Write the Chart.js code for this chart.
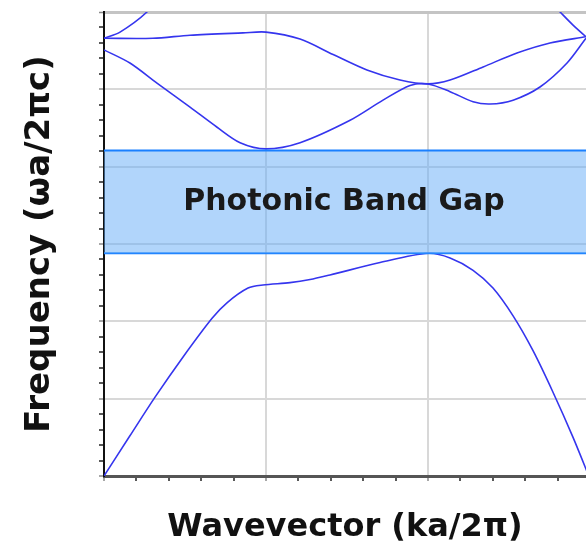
<!DOCTYPE html>
<html>
<head>
<meta charset="utf-8">
<title>Photonic Band Gap</title>
<script src="https://cdn.jsdelivr.net/npm/chart.js@4/dist/chart.umd.min.js"></script>
<style>
  html, body { margin: 0; padding: 0; background: #fff; overflow: hidden; }
</style>
</head>
<body>
<canvas id="bandChart" width="586" height="556"></canvas>
<script>
// wavevector (ka/2pi, in grid units) and frequency samples
const band1K = [0, 0.16, 0.315, 0.488, 0.667, 0.759, 0.889, 0.981, 1.148, 1.272, 1.395, 1.704, 2.0, 2.136, 2.278, 2.401, 2.525, 2.648, 2.772, 2.895, 3.0];
const band1W = [0, 0.52, 1.02, 1.54, 2.04, 2.24, 2.43, 2.47, 2.50, 2.54, 2.60, 2.76, 2.88, 2.82, 2.66, 2.43, 2.07, 1.62, 1.08, 0.50, -0.04];

const band2K = [0, 0.16, 0.327, 0.531, 0.698, 0.84, 1.0, 1.21, 1.519, 1.722, 1.889, 2.0, 2.136, 2.278, 2.383, 2.525, 2.691, 2.858, 2.975, 3.0];
const band2W = [5.51, 5.34, 5.08, 4.77, 4.51, 4.31, 4.23, 4.31, 4.60, 4.86, 5.05, 5.07, 4.97, 4.84, 4.81, 4.86, 5.03, 5.34, 5.66, 5.72];

const band3K = [0, 0.302, 0.531, 0.858, 1.0, 1.21, 1.414, 1.623, 1.827, 2.0, 2.136, 2.34, 2.549, 2.753, 2.975, 3.0];
const band3W = [5.66, 5.66, 5.70, 5.73, 5.74, 5.65, 5.45, 5.25, 5.12, 5.07, 5.12, 5.29, 5.47, 5.60, 5.68, 5.69];

const band4LeftK = [0, 0.099, 0.265, 0.38];
const band4LeftW = [5.66, 5.74, 6.0, 6.3];
const band4RightK = [2.7, 2.815, 2.895, 2.975, 3.0];
const band4RightW = [6.25, 6.0, 5.83, 5.68, 5.64];

const gapK = [0, 3];
const gapTop = [4.21, 4.21];
const gapBottom = [2.88, 2.88];
const gapLabel = 'Photonic Band Gap';

const xTitle = 'Wavevector (ka/2\u03c0)';
const yTitle = 'Frequency (\u03c9a/2\u03c0c)';

function pts(ks, ws) {
    return ks.map((k, i) => ({ x: k, y: ws[i] }));
}

function isMajor(v) {
    return v !== undefined && Math.abs(v - Math.round(v)) < 1e-6;
}

const bandStyle = {
    showLine: true,
    borderColor: '#3535ee',
    borderWidth: 1.6,
    pointRadius: 0,
    tension: 0.3,
    fill: false
};

const gapText = {
    id: 'gapText',
    afterDatasetsDraw(chart) {
        const { ctx, chartArea, scales } = chart;
        const yMid = scales.y.getPixelForValue((gapTop[0] + gapBottom[0]) / 2);
        ctx.save();
        ctx.font = 'bold 30px "DejaVu Sans", sans-serif';
        ctx.fillStyle = '#1a1a1a';
        ctx.textAlign = 'center';
        ctx.textBaseline = 'middle';
        ctx.fillText(gapLabel, (chartArea.left + chartArea.right) / 2 - 1, yMid);
        ctx.restore();
    }
};

new Chart(document.getElementById('bandChart'), {
    type: 'scatter',
    data: {
        datasets: [
            { data: pts(gapK, gapTop), showLine: true, pointRadius: 0, borderColor: '#1a80ff', borderWidth: 2,
              backgroundColor: 'rgba(100, 172, 247, 0.5)', fill: '+1' },
            { data: pts(gapK, gapBottom), showLine: true, pointRadius: 0, borderColor: '#1a80ff', borderWidth: 2, fill: false },
            { data: pts(band1K, band1W), ...bandStyle },
            { data: pts(band2K, band2W), ...bandStyle },
            { data: pts(band3K, band3W), ...bandStyle },
            { data: pts(band4LeftK, band4LeftW), ...bandStyle },
            { data: pts(band4RightK, band4RightW), ...bandStyle }
        ]
    },
    options: {
        responsive: false,
        animation: false,
        layout: { padding: { top: 12, right: 0, bottom: 0, left: 0 } },
        plugins: {
            legend: { display: false },
            tooltip: { enabled: false }
        },
        scales: {
            x: {
                type: 'linear',
                min: 0,
                max: 2.975,
                afterFit(scale) { scale.height = 80; },
                ticks: { stepSize: 0.2, display: false, autoSkip: false, includeBounds: false },
                grid: {
                    tickLength: 5,
                    color: c => (isMajor(c.tick && c.tick.value) && c.tick.value > 0) ? '#d8d8d8' : 'rgba(0,0,0,0)',
                    lineWidth: 2,
                    tickColor: c => isMajor(c.tick && c.tick.value) ? '#8a8a8a' : '#222',
                    tickWidth: 1.5
                },
                border: { color: '#555', width: 3 },
                title: {
                    display: true,
                    text: xTitle,
                    color: '#111',
                    font: { family: '"DejaVu Sans", sans-serif', size: 32, weight: 'bold' },
                    padding: { top: 0, bottom: 9 }
                }
            },
            y: {
                type: 'linear',
                min: 0,
                max: 6,
                afterFit(scale) { scale.width = 104; },
                ticks: { stepSize: 0.2, display: false, autoSkip: false },
                grid: {
                    tickLength: 5,
                    color: c => {
                        const v = c.tick && c.tick.value;
                        if (!isMajor(v) || v === 0) return 'rgba(0,0,0,0)';
                        return v === 6 ? '#c4c4c4' : '#d8d8d8';
                    },
                    lineWidth: c => (c.tick && c.tick.value === 6) ? 3 : 2,
                    tickColor: c => isMajor(c.tick && c.tick.value) ? '#8a8a8a' : '#222',
                    tickWidth: 1.5
                },
                border: { color: '#111', width: 2 },
                title: {
                    display: true,
                    text: yTitle,
                    color: '#111',
                    font: { family: '"DejaVu Sans", sans-serif', size: 34, weight: 'bold' },
                    padding: { top: 20, bottom: 0 }
                }
            }
        }
    },
    plugins: [gapText]
});
</script>
</body>
</html>
